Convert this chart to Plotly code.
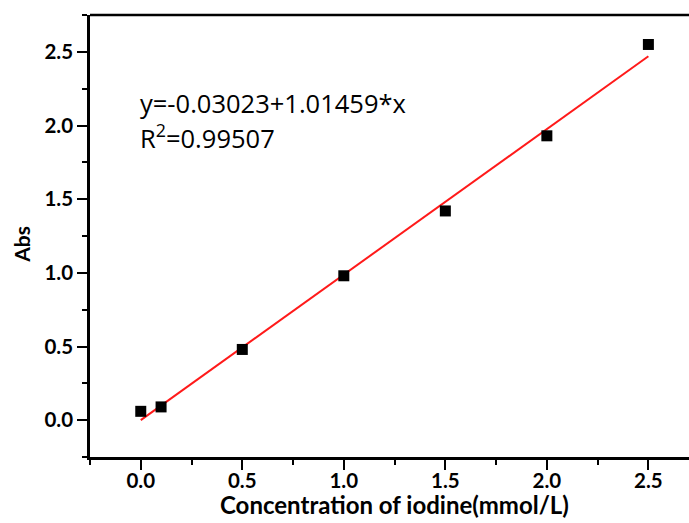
import plotly.graph_objects as go

conc = [0.0, 0.1, 0.5, 1.0, 1.5, 2.0, 2.5]
absorb = [0.06, 0.09, 0.48, 0.98, 1.42, 1.93, 2.55]
fit_x = [0.0, 2.5]
fit_y = [0.0, 2.47]
x_ticks = [0.0, 0.5, 1.0, 1.5, 2.0, 2.5]
y_ticks = [0.0, 0.5, 1.0, 1.5, 2.0, 2.5]

FONT = "Lato"

fig = go.Figure()
fig.add_trace(go.Scatter(x=fit_x, y=fit_y, mode="lines",
                         line=dict(color="#ff1a1a", width=2), showlegend=False))
fig.add_trace(go.Scatter(x=conc, y=absorb, mode="markers",
                         marker=dict(symbol="square", size=11, color="black"),
                         showlegend=False))

axis_common = dict(
    showgrid=False, zeroline=False, showline=True, linecolor="black", linewidth=2.5,
    ticks="outside", ticklen=10, tickwidth=2, tickcolor="black", automargin=False,
    tickfont=dict(family=FONT, size=20.5, color="black", weight="bold"),
    minor=dict(ticks="outside", ticklen=5, tickwidth=2, tickcolor="black", dtick=0.25),
)

fig.update_xaxes(range=[-0.25, 2.70], tickvals=x_ticks, ticktext=[f"{v:.1f}" for v in x_ticks],
                 ticklabelstandoff=-6, **axis_common)
fig.update_yaxes(range=[-0.25, 2.75], tickvals=y_ticks, ticktext=[f"{v:.1f}" for v in y_ticks],
                 **axis_common)

fig.add_shape(type="line", xref="paper", yref="paper", x0=0, x1=1, y0=1, y1=1,
              line=dict(color="black", width=2.5))

# axis titles
fig.add_annotation(xref="paper", yref="paper", x=0.509, y=0, xanchor="center", yanchor="middle",
                   yshift=-47, text="Concentration of iodine(mmol/L)", showarrow=False,
                   font=dict(family=FONT, size=24, color="black", weight="bold"))
fig.add_annotation(xref="paper", yref="paper", x=0, y=0.48, xanchor="center", yanchor="middle",
                   xshift=-68, text="Abs", textangle=-90, showarrow=False,
                   font=dict(family=FONT, size=21, color="black", weight="bold"))

# fit equation
fig.add_annotation(xref="paper", yref="paper", x=0.08, y=0.80, xanchor="left", yanchor="middle",
                   text="y=-0.03023+1.01459*x", showarrow=False,
                   font=dict(family="Open Sans", size=25.5, color="black"))
fig.add_annotation(xref="paper", yref="paper", x=0.08, y=0.724, xanchor="left", yanchor="middle",
                   text="R<sup>2</sup>=0.99507", showarrow=False,
                   font=dict(family="Open Sans", size=25.5, color="black"))

fig.update_layout(width=689, height=523, margin=dict(l=90, r=0, t=15, b=66),
                  plot_bgcolor="white", paper_bgcolor="white")

fig.write_html("out.html", config={"displayModeBar": False},
               post_script="document.body.style.margin='0';document.body.style.overflow='hidden';")
